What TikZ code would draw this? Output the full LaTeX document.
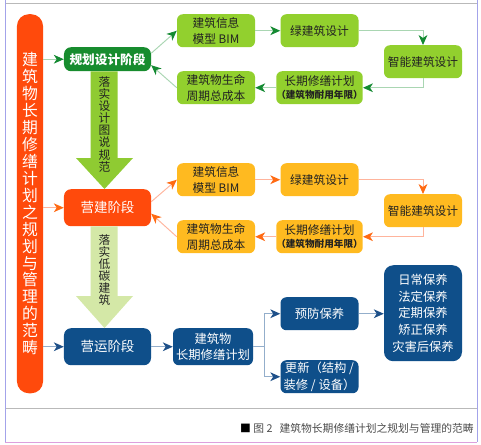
\documentclass[tikz,border=0pt]{standalone}
\usepackage{fontspec}
\setmainfont{Noto Sans CJK SC}
\usepackage{xcolor}
\usepackage{tikz}
\usetikzlibrary{arrows.meta,calc}
\definecolor{bred}{HTML}{FF4A0C}
\definecolor{bgreen}{HTML}{178C2E}
\definecolor{blime}{HTML}{92D02E}
\definecolor{bamber}{HTML}{FFBA20}
\definecolor{bnavy}{HTML}{0F4F8A}
\definecolor{gline}{HTML}{A9D6B2}
\definecolor{gtip}{HTML}{148A32}
\definecolor{oline}{HTML}{FFB49C}
\definecolor{otip}{HTML}{FF6A12}
\definecolor{nline}{HTML}{93AECB}
\definecolor{ntip}{HTML}{1E5089}
\definecolor{flime}{HTML}{8FCB32}
\definecolor{fpale}{HTML}{D4E8A7}
\definecolor{fside}{HTML}{A3A3EA}
\definecolor{fbottom}{HTML}{DDA0DD}
\definecolor{ftext}{HTML}{222222}

\begin{document}
\begin{tikzpicture}[x=0.03cm,y=-0.03cm,
  every node/.style={font=\fontsize{10}{13.6}\selectfont,align=center,inner sep=0pt},
  box/.style={rounded corners=5pt,minimum width=2.34cm,minimum height=0.99cm},
  gbox/.style={box,fill=blime,text=ftext},
  obox/.style={box,fill=bamber,text=ftext},
  nbox/.style={box,fill=bnavy,text=white},
  stage/.style={rounded corners=6pt,minimum width=2.61cm,minimum height=1.11cm,text=white,font=\fontsize{11.5}{14}\selectfont},
  glink/.style={gline,line width=0.8pt,-{Stealth[length=8.5pt,width=7.5pt,inset=2.5pt,color=gtip]}},
  olink/.style={oline,line width=0.8pt,-{Stealth[length=8.5pt,width=7.5pt,inset=2.5pt,color=otip]}},
  nlink/.style={nline,line width=0.8pt,-{Stealth[length=8.5pt,width=7.5pt,inset=2.5pt,color=ntip]}},
  vlabel/.style={text=ftext,font=\fontsize{10}{10.3}\selectfont}]
  \fill[white] (0,0) rectangle (481,444);

  % frame and caption rule
  \draw[gray!55] (5,3) -- (477,3);
  \draw[gray!55] (5,408) -- (477,408);
  \draw[fside] (5,0) -- (5,442);
  \draw[fside] (477,0) -- (477,442);
  \draw[fbottom] (5,442) -- (477,442);

  % left bar
  \node[fill=bred,rounded corners=10pt,minimum width=0.78cm,minimum height=11.37cm,text=white,
        font=\fontsize{13.5}{14.45}\selectfont] (bar) at (30,203.5)
    {建\\筑\\物\\长\\期\\修\\缮\\计\\划\\之\\规\\划\\与\\管\\理\\的\\范\\畴};

  % stages
  \node[stage,fill=bgreen,minimum height=0.72cm,font=\fontsize{10.8}{14}\selectfont\bfseries] (plan) at (107.5,59) {规划设计阶段};
  \node[stage,fill=bred] (build) at (107.5,207.5) {营建阶段};
  \node[stage,fill=bnavy] (run) at (107.5,346.5) {营运阶段};

  % planning row
  \node[gbox] (bimA) at (216,30.5) {建筑信息\\模型 BIM};
  \node[gbox] (greenA) at (319.5,30.5) {绿建筑设计};
  \node[gbox] (smartA) at (423,61.5) {智能建筑设计};
  \node[gbox] (repairA) at (319.5,87.5) {长期修缮计划\\[-2pt]{\fontsize{8.2}{9}\selectfont\bfseries （建筑物耐用年限）}};
  \node[gbox] (costA) at (216,87.5) {建筑物生命\\周期总成本};

  % construction row
  \node[obox] (bimB) at (216,179.5) {建筑信息\\模型 BIM};
  \node[obox] (greenB) at (319.5,179.5) {绿建筑设计};
  \node[obox] (smartB) at (423,210.5) {智能建筑设计};
  \node[obox] (repairB) at (319.5,236.5) {长期修缮计划\\[-2pt]{\fontsize{8.2}{9}\selectfont\bfseries （建筑物耐用年限）}};
  \node[obox] (costB) at (216,236.5) {建筑物生命\\周期总成本};

  % operation row
  \node[nbox,minimum width=2.4cm,minimum height=1.11cm,font=\fontsize{10.5}{14}\selectfont] (plan3) at (213,346.5) {建筑物\\长期修缮计划};
  \node[nbox,font=\fontsize{10.5}{14}\selectfont] (prevent) at (319.5,313.5) {预防保养};
  \node[nbox,font=\fontsize{10.5}{14}\selectfont] (renew) at (319.5,376.5) {更新（结构 /\\装修 / 设备）};
  \node[nbox,rounded corners=8pt,minimum height=2.88cm,font=\fontsize{10.5}{14.2}\selectfont] (care) at (423,313)
    {日常保养\\法定保养\\定期保养\\矫正保养\\灾害后保养};

  % big arrows
  \fill[flime] ($(plan.south)+(-17,0)$) -- ($(plan.south)+(10,0)$) -- ($(build.north)+(10,-31)$)
    -- ($(build.north)+(25.5,-31)$) -- ($(build.north)+(-3,0)$) -- ($(build.north)+(-31.5,-31)$)
    -- ($(build.north)+(-17,-31)$) -- cycle;
  \node[vlabel] (ruleA) at ($(plan.south)!0.45!(build.north)+(-3,0)$) {落\\实\\设\\计\\图\\说\\规\\范};
  \fill[fpale] ($(build.south)+(-17,0)$) -- ($(build.south)+(10,0)$) -- ($(run.north)+(10,-32)$)
    -- ($(run.north)+(25.5,-32)$) -- ($(run.north)+(-3,0)$) -- ($(run.north)+(-31.5,-32)$)
    -- ($(run.north)+(-17,-32)$) -- cycle;
  \node[vlabel] (ruleB) at ($(build.south)!0.43!(run.north)+(-3,0)$) {落\\实\\低\\碳\\建\\筑};

  % connectors
  \draw[glink] (bar.east |- plan) -- (plan.west);
  \draw[glink] ($(plan.east)+(0,-6)$) -- (bimA.west);
  \draw[glink] (bimA) -- (greenA);
  \draw[glink] (greenA.east) -| (smartA.north);
  \draw[glink] (smartA.south) |- (repairA.east);
  \draw[glink] (repairA) -- (costA);
  \draw[glink] (costA.west) -- ($(plan.east)+(0,6)$);

  \draw[olink] (bar.east |- build) -- (build.west);
  \draw[olink] ($(build.east)+(0,-6)$) -- (bimB.west);
  \draw[olink] (bimB) -- (greenB);
  \draw[olink] (greenB.east) -| (smartB.north);
  \draw[olink] (smartB.south) |- (repairB.east);
  \draw[olink] (repairB) -- (costB);
  \draw[olink] (costB.west) -- ($(build.east)+(0,6)$);

  \draw[nlink] (bar.east |- run) -- (run.west);
  \draw[nlink] (run) -- (plan3);
  \draw[nlink] (plan3.east) -- ++(11,0) |- (prevent.west);
  \draw[nlink] (plan3.east) -- ++(11,0) |- (renew.west);
  \draw[nlink] (prevent) -- (prevent -| care.west);

  % caption
  \node[anchor=west,text=black!70,font=\fontsize{9.2}{10}\selectfont] (cap) at (240,428)
    {\textcolor{black}{■} 图 2\hspace{6pt}建筑物长期修缮计划之规划与管理的范畴};
\end{tikzpicture}
\end{document}
